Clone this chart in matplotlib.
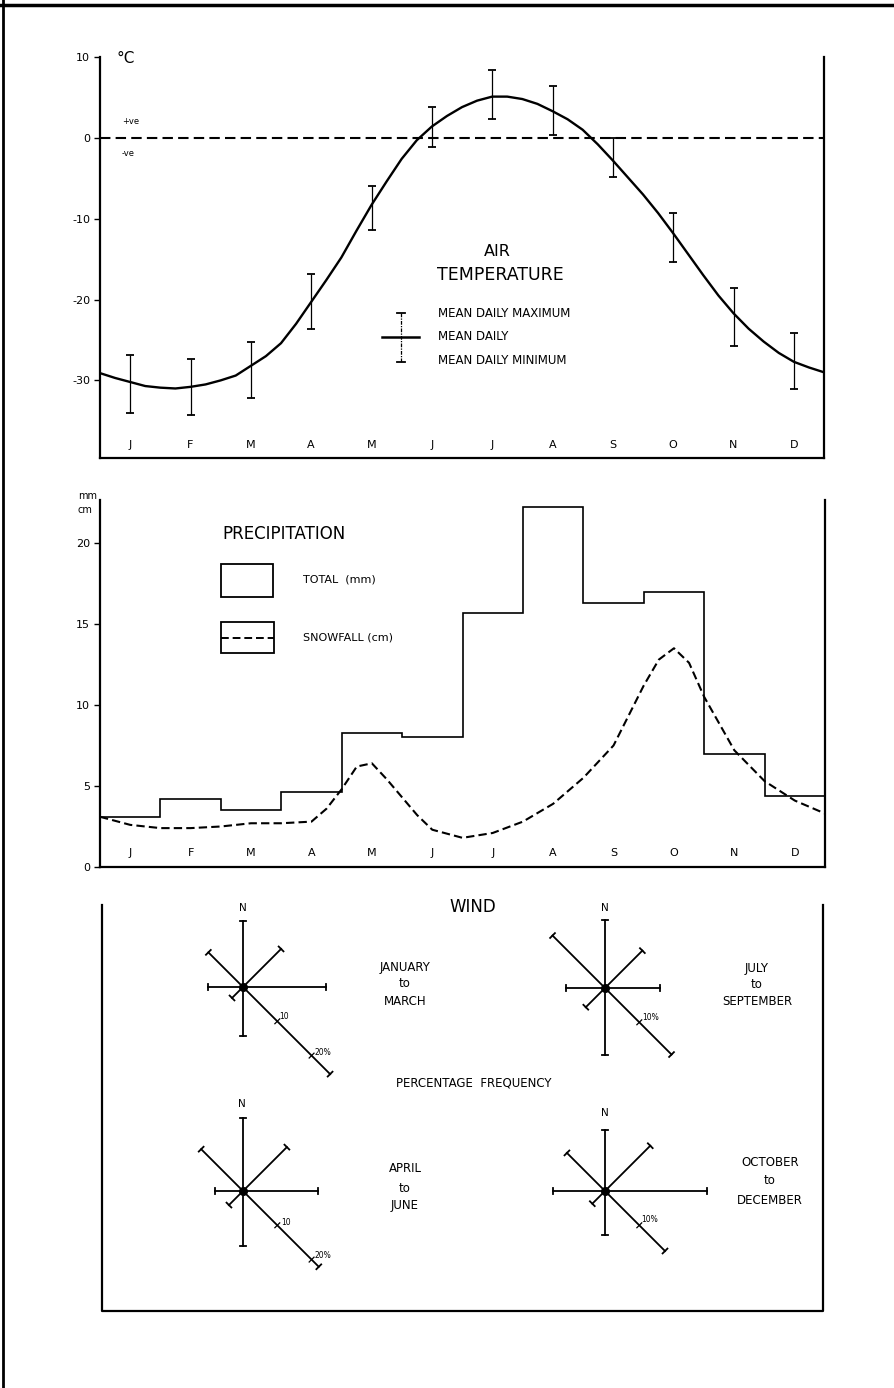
import numpy as np
import matplotlib
matplotlib.use('Agg')
import matplotlib.pyplot as plt

W, H = 894, 1388

# --- air temperature ---
months = ['J', 'F', 'M', 'A', 'M', 'J', 'J', 'A', 'S', 'O', 'N', 'D']
t_max = [-26.9, -27.3, -25.3, -16.8, -5.9, 3.8, 8.4, 6.4, 0.0, -9.3, -18.6, -24.2]
t_min = [-34.0, -34.3, -32.2, -23.7, -11.4, -1.1, 2.3, 0.4, -4.9, -15.4, -25.8, -31.1]
t_curve_x = [0, 0.25, 0.5, 0.75, 1, 1.25, 1.5, 1.75, 2, 2.25, 2.5, 2.75, 3, 3.25,
             3.5, 3.75, 4, 4.25, 4.5, 4.75, 5, 5.25, 5.5, 5.75, 6, 6.25, 6.5, 6.75,
             7, 7.25, 7.5, 7.75, 8, 8.25, 8.5, 8.75, 9, 9.25, 9.5, 9.75, 10, 10.25,
             10.5, 10.75, 11, 11.25, 11.5, 11.75, 12]
t_curve = [-29.1, -29.7, -30.2, -30.7, -30.9, -31.0, -30.8, -30.5, -30.0, -29.4,
           -28.2, -27.0, -25.4, -23.0, -20.3, -17.6, -14.8, -11.5, -8.3, -5.4,
           -2.6, -0.3, 1.4, 2.7, 3.8, 4.6, 5.1, 5.1, 4.8, 4.2, 3.3, 2.3, 1.0, -0.8,
           -2.8, -4.9, -7.0, -9.3, -11.8, -14.4, -17.0, -19.5, -21.7, -23.6,
           -25.2, -26.6, -27.7, -28.4, -29.0]
t_ticks = [10, 0, -10, -20, -30]

# --- precipitation ---
precip_total = [3.1, 4.2, 3.5, 4.6, 8.3, 8.0, 15.7, 22.2, 16.3, 17.0, 7.0, 4.4]
snow_x = [0, 0.5, 1, 1.5, 2, 2.5, 3, 3.5, 3.75, 4, 4.25, 4.5, 4.75, 5, 5.25, 5.5,
          6, 6.5, 7, 7.5, 8, 8.5, 9, 9.25, 9.5, 9.75, 10, 10.5, 11, 11.5, 12]
snowfall = [3.1, 2.6, 2.4, 2.4, 2.5, 2.7, 2.7, 2.8, 3.6, 4.8, 6.2, 6.4, 5.4, 4.3, 3.2,
            2.3, 1.8, 2.1, 2.8, 3.9, 5.5, 7.5, 11.2, 12.8, 13.5, 12.6, 10.5, 7.2,
            5.3, 4.1, 3.3]
p_ticks = [20, 15, 10, 5, 0]

# --- wind, percentage frequency: N, NE, E, SE, S, SW, W, NW ---
wind_angles = [90, 45, 0, -45, -90, -135, 180, 135]
wind_jan_mar = [13.6, 11.1, 17.1, 25.4, 10.1, 3.2, 7.2, 10.1]
wind_jul_sep = [14.0, 10.9, 11.3, 19.4, 13.8, 5.6, 8.0, 15.3]
wind_apr_jun = [15.0, 12.8, 15.5, 22.1, 11.3, 4.1, 5.8, 12.2]
wind_oct_dec = [12.6, 13.2, 21.0, 17.5, 9.1, 3.7, 10.7, 11.1]

plt.rcParams['font.family'] = ['DejaVu Sans']
plt.rcParams['axes.unicode_minus'] = False
fig = plt.figure(figsize=(W / 100, H / 100), dpi=100)


def px_axes(x0, y0, x1, y1):
    # pixel box (top-left origin) -> figure axes
    return fig.add_axes([x0 / W, 1 - y1 / H, (x1 - x0) / W, (y1 - y0) / H])


def style_axes(ax):
    ax.spines['top'].set_visible(False)
    for s in ['left', 'right', 'bottom']:
        ax.spines[s].set_linewidth(1.6)
    ax.set_xticks([])
    ax.tick_params(axis='y', length=4, width=1, pad=3, labelsize=8)
    ax.patch.set_visible(False)


# temperature panel
ax1 = px_axes(100, 57, 824, 458)
ax1.set_xlim(0, 12)
ax1.set_ylim(-39.6, 10)
style_axes(ax1)
ax1.set_yticks(t_ticks)
mid = np.arange(12) + 0.5
ax1.axhline(0, color='k', lw=1.5, ls=(0, (5, 2.5)))
ax1.plot(t_curve_x, t_curve, color='k', lw=1.7)
t_lo = np.array(t_min)
t_hi = np.array(t_max)
ax1.errorbar(mid, (t_hi + t_lo) / 2, yerr=(t_hi - t_lo) / 2, fmt='none',
             ecolor='k', elinewidth=0.9, capsize=3, capthick=1.3)
for x, m in zip(mid, months):
    ax1.text(x, 0.032, m, transform=ax1.get_xaxis_transform(),
             ha='center', va='center', fontsize=8)

# precipitation panel
ax2 = px_axes(100, 500, 825, 867)
ax2.set_xlim(0, 12)
ax2.set_ylim(0, 22.65)
style_axes(ax2)
ax2.set_yticks(p_ticks)
ax2.stairs(precip_total, np.arange(13), color='k', lw=1.2, baseline=None)
ax2.plot(snow_x, snowfall, color='k', lw=1.5, ls=(0, (4, 2)))
for x, m in zip(mid, months):
    ax2.text(x, 0.038, m, transform=ax2.get_xaxis_transform(),
             ha='center', va='center', fontsize=8)

# wind roses
px_per_pct = 4.85
R = 150
lim = R / px_per_pct


def rose(cx, cy, values, scale_labels):
    ax = px_axes(cx - R, cy - R, cx + R, cy + R)
    ax.set_xlim(-lim, lim)
    ax.set_ylim(-lim, lim)
    ax.axis('off')
    cap = 0.7
    for ang, v in zip(wind_angles, values):
        a = np.deg2rad(ang)
        ex, ey = v * np.cos(a), v * np.sin(a)
        ax.plot([0, ex], [0, ey], color='k', lw=1.3)
        px, py = -np.sin(a) * cap, np.cos(a) * cap
        ax.plot([ex - px, ex + px], [ey - py, ey + py], color='k', lw=1.3)
    a = np.deg2rad(-45)
    for pct, txt, dx, dy in scale_labels:
        tx, ty = pct * np.cos(a), pct * np.sin(a)
        ax.plot([tx - 0.5, tx + 0.5], [ty - 0.5, ty + 0.5], color='k', lw=0.9)
        ax.text(tx + dx, ty + dy, txt, fontsize=5.5, ha='left', va='center')
    ax.plot(0, 0, 'o', color='k', ms=5.5)


rose(243, 987, wind_jan_mar, [(10, '10', 0.4, 0.9), (20, '20%', 0.5, 0.7)])
rose(605, 988, wind_jul_sep, [(10, '10%', 0.5, 0.9)])
rose(243, 1191, wind_apr_jun, [(10, '10', 0.9, 0.6), (20, '20%', 0.5, 0.8)])
rose(605, 1191, wind_oct_dec, [(10, '10%', 0.4, 1.2)])

# overlay in pixel coordinates for labels and frames
ov = fig.add_axes([0, 0, 1, 1])
ov.set_xlim(0, W)
ov.set_ylim(H, 0)
ov.axis('off')
ov.patch.set_visible(False)

ov.plot([0, W], [5, 5], color='k', lw=2.5)
ov.plot([3, 3], [0, H], color='k', lw=2)

ov.text(117, 58, '°C', fontsize=11, ha='left', va='center')
ov.text(122, 121, '+ve', fontsize=6, ha='left', va='center')
ov.text(122, 153, '-ve', fontsize=6, ha='left', va='center')
ov.text(497, 251, 'AIR', fontsize=11.5, ha='center', va='center')
ov.text(500, 275, 'TEMPERATURE', fontsize=12.5, ha='center', va='center')
ov.plot([401, 401], [313, 362], color='k', lw=0.9, ls=(0, (3, 1, 1, 1)))
ov.plot([397, 405], [313, 313], color='k', lw=1.3)
ov.plot([397, 405], [362, 362], color='k', lw=1.3)
ov.plot([382, 419], [337, 337], color='k', lw=1.8)
ov.text(438, 313, 'MEAN DAILY MAXIMUM', fontsize=8.5, ha='left', va='center')
ov.text(438, 336, 'MEAN DAILY', fontsize=8.5, ha='left', va='center')
ov.text(438, 360, 'MEAN DAILY MINIMUM', fontsize=8.5, ha='left', va='center')

ov.text(78, 496, 'mm', fontsize=7, ha='left', va='center')
ov.text(78, 510, 'cm', fontsize=7, ha='left', va='center')
ov.text(222, 534, 'PRECIPITATION', fontsize=12, ha='left', va='center')
ov.add_patch(plt.Rectangle((221, 564), 52, 33, fill=False, ec='k', lw=1.3))
ov.add_patch(plt.Rectangle((221, 622), 53, 31, fill=False, ec='k', lw=1.3))
ov.plot([221, 274], [638, 638], color='k', lw=1.4, ls=(0, (4, 2)))
ov.text(303, 579, 'TOTAL  (mm)', fontsize=8, ha='left', va='center')
ov.text(303, 637, 'SNOWFALL (cm)', fontsize=8, ha='left', va='center')

ov.plot([102, 102, 823, 823], [905, 1311, 1311, 905], color='k', lw=1.6)
ov.text(473, 907, 'WIND', fontsize=12, ha='center', va='center')
ov.text(474, 1083, 'PERCENTAGE  FREQUENCY', fontsize=8.5, ha='center', va='center')
for x, y in [(243, 908), (605, 908), (242, 1104), (605, 1113)]:
    ov.text(x, y, 'N', fontsize=7.5, ha='center', va='center')
season_text = [(405, [967, 983, 1001], ['JANUARY', 'to', 'MARCH']),
               (757, [968, 984, 1001], ['JULY', 'to', 'SEPTEMBER']),
               (405, [1169, 1188, 1206], ['APRIL', 'to', 'JUNE']),
               (770, [1162, 1181, 1200], ['OCTOBER', 'to', 'DECEMBER'])]
for x, ys, words in season_text:
    for y, w in zip(ys, words):
        ov.text(x, y, w, fontsize=8.5, ha='center', va='center')

fig.savefig('out.png', dpi=100, facecolor='white')
